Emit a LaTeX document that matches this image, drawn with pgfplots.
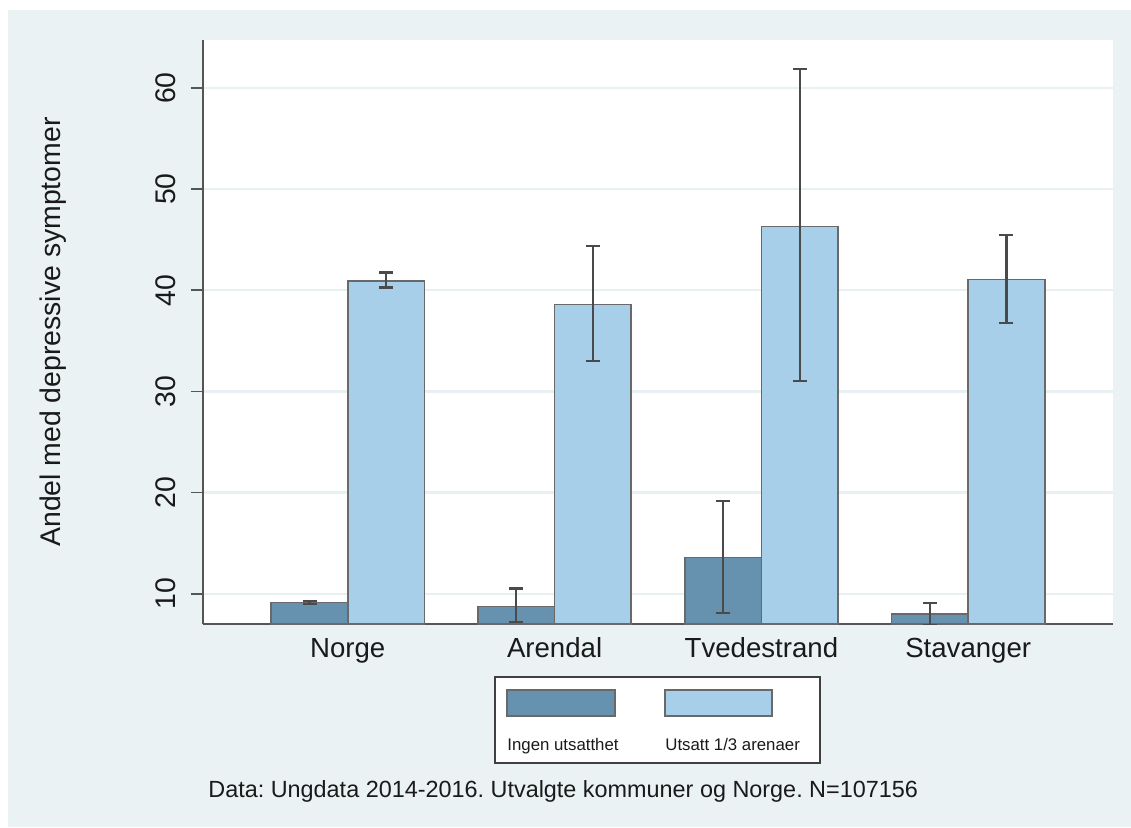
\documentclass[border=0pt]{standalone}
\usepackage{fontspec}
\setmainfont{Liberation Sans}
\usepackage{pgfplots}
\usepackage{pgfplotstable}
\pgfplotsset{compat=1.18}
\frenchspacing

\definecolor{bgc}{RGB}{234,242,243}
\definecolor{gridc}{RGB}{232,240,242}
\definecolor{darkbar}{RGB}{103,146,175}
\definecolor{lightbar}{RGB}{168,207,233}
\definecolor{edgec}{RGB}{105,105,105}
\definecolor{errc}{RGB}{74,74,74}
\definecolor{axc}{RGB}{85,85,85}
\definecolor{txtc}{RGB}{26,26,26}

% mean share with depressive symptoms and 95% CI (ep = upper, em = lower)
\pgfplotstableread{
x   y      ep     em
0   9.14   0.17   0.16
1   8.73   1.79   1.57
2   13.58  5.62   5.52
3   7.99   1.09   1.09
}\ingen
\pgfplotstableread{
x   y      ep     em
0   40.92  0.83   0.65
1   38.62  5.73   5.64
2   46.30  15.60  15.24
3   41.09  4.37   4.29
}\utsatt

\begin{document}
\begin{tikzpicture}
\begin{scope}[x=0.5pt,y=-0.5pt]
  \useasboundingbox (0,0) rectangle (1131,827);
  \fill[white] (0,0) rectangle (1131,827);
  \fill[bgc] (8,10) rectangle (1131,827);
\end{scope}

\begin{axis}[
  at={(101.5pt,-312pt)}, anchor=south west,
  scale only axis, width=455pt, height=292pt,
  xmin=-0.7, xmax=3.7, ymin=7, ymax=64.75,
  axis background/.style={fill=white},
  axis x line*=bottom, axis y line*=left,
  axis line style={color=axc, line width=0.9pt},
  ybar=0pt, bar width=0.37,
  xtick={0,1,2,3},
  xticklabels={Norge,Arendal,Tvedestrand,Stavanger},
  x tick style={draw=none},
  xticklabel style={anchor=base, yshift=-10.5pt, font=\fontsize{13.8}{16}\selectfont, color=txtc},
  ytick={10,20,30,40,50,60},
  tick align=outside, major tick length=6pt,
  y tick style={color=axc, line width=0.9pt},
  yticklabel style={rotate=90, anchor=south, yshift=4pt, font=\fontsize{14.2}{16}\selectfont, color=txtc},
  /pgf/number format/assume math mode=true,
  ymajorgrids, grid style={color=gridc, line width=1.1pt},
  ylabel={Andel med depressive symptomer},
  ylabel style={at={(axis description cs:-0.1648,0.5)}, anchor=center, font=\fontsize{14.2}{16}\selectfont, color=txtc},
  error bars/error bar style={line width=1.1pt, color=errc},
  error bars/error mark options={line width=1.1pt, color=errc, mark size=3.5pt, rotate=90},
]
\addplot[fill=darkbar, draw=edgec, line width=0.75pt,
  error bars/.cd, y dir=both, y explicit]
  table[x=x, y=y, y error plus=ep, y error minus=em] {\ingen};
\addplot[fill=lightbar, draw=edgec, line width=0.75pt,
  error bars/.cd, y dir=both, y explicit]
  table[x=x, y=y, y error plus=ep, y error minus=em] {\utsatt};
\end{axis}

\begin{scope}[x=0.5pt,y=-0.5pt]
  % legend
  \draw[fill=white, draw=black!75, line width=0.6pt] (495,677) rectangle (820,763);
  \draw[fill=darkbar, draw=edgec, line width=0.75pt] (507,690) rectangle (615,716);
  \draw[fill=lightbar, draw=edgec, line width=0.75pt] (665,690) rectangle (772,716);
  \node[anchor=base west, inner sep=0, font=\fontsize{8.4}{10}\selectfont, color=txtc] at (507,750) {Ingen utsatthet};
  \node[anchor=base west, inner sep=0, font=\fontsize{8.4}{10}\selectfont, color=txtc] at (665,750) {Utsatt 1/3 arenaer};
  % note
  \node[anchor=base west, inner sep=0, font=\fontsize{11.7}{14}\selectfont, color=txtc] at (208,797) {Data: Ungdata 2014-2016. Utvalgte kommuner og Norge. N=107156};
\end{scope}
\end{tikzpicture}
\end{document}
